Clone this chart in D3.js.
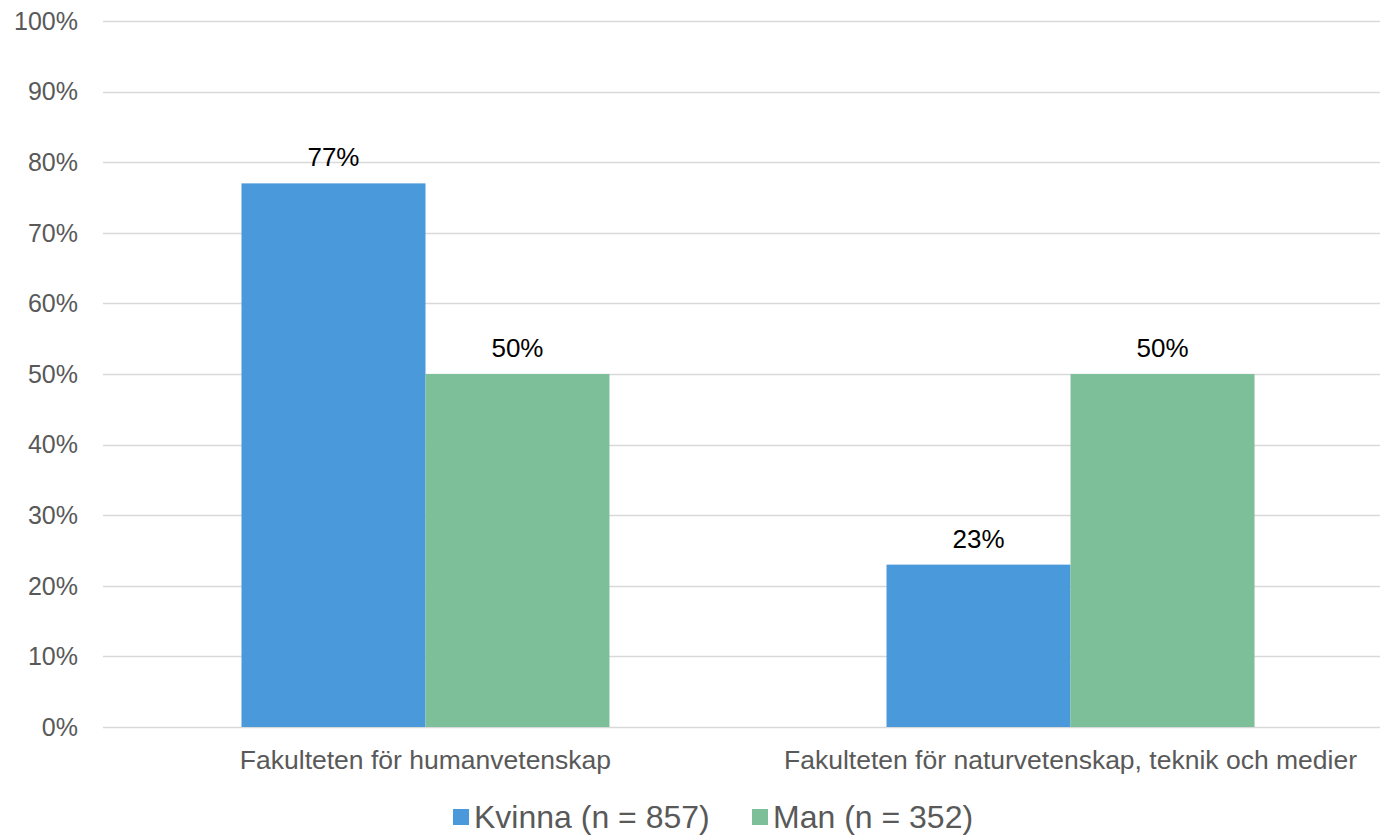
<!DOCTYPE html>
<html>
<head>
<meta charset="utf-8">
<script src="https://cdn.jsdelivr.net/npm/d3@7/dist/d3.min.js"></script>
<style>
  body { margin: 0; background: #fff; overflow: hidden; }
  svg { font-family: "Liberation Sans", Arial, sans-serif; display: block; }
</style>
</head>
<body>
<svg id="chart" width="1380" height="835"></svg>
<script>
// Chart data
var categories = ["Fakulteten för humanvetenskap", "Fakulteten för naturvetenskap, teknik och medier"];
var seriesNames = ["Kvinna (n = 857)", "Man (n = 352)"];
var kvinnaValues = [77, 23];
var manValues = [50, 50];
var yTicks = [0, 10, 20, 30, 40, 50, 60, 70, 80, 90, 100];
var colors = ["#4A99DB", "#7CBF99"];

var svg = d3.select("#chart");

// Plot area (the right edge runs past the window, as in the source)
var plotLeft = 103, plotRight = 1393, plotTop = 21, plotBottom = 727;

var x0 = d3.scaleBand()
    .domain(categories)
    .range([plotLeft, plotRight])
    .paddingInner(0.4295)
    .paddingOuter(0.2147);

var x1 = d3.scaleBand()
    .domain(seriesNames)
    .range([0, x0.bandwidth()]);

var y = d3.scaleLinear().domain([0, 100]).range([plotBottom, plotTop]);

// Gridlines
svg.append("g")
  .selectAll("line")
  .data(yTicks)
  .enter().append("line")
  .attr("x1", plotLeft)
  .attr("x2", plotRight)
  .attr("y1", d => Math.round(y(d)) + 0.5)
  .attr("y2", d => Math.round(y(d)) + 0.5)
  .attr("stroke", "#d9d9d9")
  .attr("stroke-width", 1.3);

// Y axis labels
svg.append("g")
  .selectAll("text")
  .data(yTicks)
  .enter().append("text")
  .attr("x", 78)
  .attr("y", d => y(d))
  .attr("dy", "0.35em")
  .attr("text-anchor", "end")
  .attr("font-size", 25)
  .attr("fill", "#595959")
  .text(d => d + "%");

// Bars
var series = [kvinnaValues, manValues];
var rows = [];
categories.forEach(function(c, i) {
  seriesNames.forEach(function(s, j) {
    rows.push({cat: c, name: s, value: series[j][i], color: colors[j]});
  });
});

var bars = svg.append("g");
bars.selectAll("rect")
  .data(rows)
  .enter().append("rect")
  .attr("x", d => x0(d.cat) + x1(d.name))
  .attr("y", d => y(d.value))
  .attr("width", x1.bandwidth())
  .attr("height", d => y(0) - y(d.value))
  .attr("fill", d => d.color);

// Data labels
bars.selectAll("text")
  .data(rows)
  .enter().append("text")
  .attr("x", d => x0(d.cat) + x1(d.name) + x1.bandwidth() / 2)
  .attr("y", d => y(d.value) - 17)
  .attr("text-anchor", "middle")
  .attr("font-size", 26)
  .attr("fill", "#000")
  .text(d => d.value + "%");

// Category labels
svg.append("g")
  .selectAll("text")
  .data(categories)
  .enter().append("text")
  .attr("x", d => x0(d) + x0.bandwidth() / 2)
  .attr("y", 769)
  .attr("text-anchor", "middle")
  .attr("font-size", 26.5)
  .attr("fill", "#595959")
  .text(d => d);

// Legend
var legend = svg.append("g");
var legendX = [453, 752];
seriesNames.forEach(function(s, j) {
  legend.append("rect")
    .attr("x", legendX[j])
    .attr("y", 809)
    .attr("width", 16)
    .attr("height", 16)
    .attr("fill", colors[j]);
  legend.append("text")
    .attr("x", legendX[j] + 21)
    .attr("y", 828)
    .attr("font-size", 32)
    .attr("fill", "#595959")
    .text(s);
});
</script>
</body>
</html>
